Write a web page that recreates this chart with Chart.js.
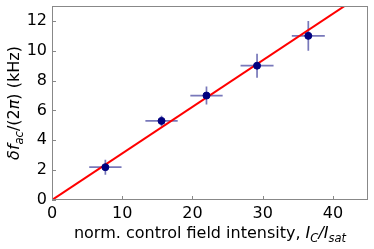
<!DOCTYPE html>
<html>
<head>
<meta charset="utf-8">
<script src="https://cdn.jsdelivr.net/npm/chart.js@4/dist/chart.umd.min.js"></script>
<style>
html,body{margin:0;padding:0;background:#fff;}
#wrap{width:374px;height:249px;position:relative;}
</style>
</head>
<body>
<div id="wrap"><canvas id="c" width="374" height="249"></canvas></div>
<script>
const xVals = [7.6, 15.6, 22.0, 29.2, 36.5];
const yVals = [2.2, 5.3, 7.0, 9.0, 11.0];
const xErr = [2.3, 2.3, 2.3, 2.35, 2.35];
const yErr = [0.5, 0.35, 0.6, 0.8, 1.0];
const fitX = [0, 45];
const fitY = [0, 14.04];
const xTicks = [0, 10, 20, 30, 40];
const yTicks = [0, 2, 4, 6, 8, 10, 12];
const xTitle = [
  {t:"norm. control field intensity, ", i:false, s:false},
  {t:"I", i:true, s:false},{t:"C", i:true, s:true},{t:"/", i:true, s:false},
  {t:"I", i:true, s:false},{t:"sat", i:true, s:true}
];
const yTitle = [
  {t:"δf", i:true, s:false},{t:"ac", i:true, s:true},{t:"/(2", i:false, s:false},
  {t:"π", i:true, s:false},{t:") (kHz)", i:false, s:false}
];

const FONT = "'DejaVu Sans', sans-serif";

function drawRich(ctx, segs, size, cx, cy){
  const sub = size*0.72;
  let total = 0;
  const ws = segs.map(s=>{
    ctx.font = (s.i?'italic ':'') + (s.s?sub:size) + 'px ' + FONT;
    const w = ctx.measureText(s.t).width; total += w; return w;
  });
  let x = cx - total/2;
  ctx.textBaseline = 'alphabetic';
  ctx.textAlign = 'left';
  segs.forEach((s,k)=>{
    ctx.font = (s.i?'italic ':'') + (s.s?sub:size) + 'px ' + FONT;
    ctx.fillText(s.t, x, cy + (s.s ? size*0.22 : 0));
    x += ws[k];
  });
}

const decor = {
  id:'decor',
  beforeDatasetsDraw(chart){
    const ctx = chart.ctx, xs = chart.scales.x, ys = chart.scales.y;
    ctx.save();
    ctx.strokeStyle = 'rgba(30,30,140,0.6)';
    ctx.lineWidth = 1.7;
    for(let k=0;k<xVals.length;k++){
      const px = xs.getPixelForValue(xVals[k]), py = ys.getPixelForValue(yVals[k]);
      ctx.beginPath();
      ctx.moveTo(xs.getPixelForValue(xVals[k]-xErr[k]), py);
      ctx.lineTo(xs.getPixelForValue(xVals[k]+xErr[k]), py);
      ctx.moveTo(px, ys.getPixelForValue(yVals[k]-yErr[k]));
      ctx.lineTo(px, ys.getPixelForValue(yVals[k]+yErr[k]));
      ctx.stroke();
    }
    ctx.restore();
  },
  afterDraw(chart){
    const ctx = chart.ctx, a = chart.chartArea, xs = chart.scales.x, ys = chart.scales.y;
    ctx.save();
    ctx.strokeStyle = '#888';
    ctx.lineWidth = 1;
    ctx.beginPath();
    xTicks.forEach(v=>{const p=Math.round(xs.getPixelForValue(v))+0.5; ctx.moveTo(p,a.bottom); ctx.lineTo(p,a.bottom-4);});
    yTicks.forEach(v=>{const p=Math.round(ys.getPixelForValue(v))+0.5; ctx.moveTo(a.left,p); ctx.lineTo(a.left+4,p);});
    ctx.stroke();
    ctx.strokeRect(a.left+0.5, a.top+0.5, a.right-a.left-1, a.bottom-a.top-1);
    ctx.fillStyle = '#000';
    drawRich(ctx, xTitle, 16, (a.left+a.right)/2, 238);
    ctx.translate(19, (a.top+a.bottom)/2);
    ctx.rotate(-Math.PI/2);
    drawRich(ctx, yTitle, 16, 0, 0);
    ctx.restore();
  }
};

new Chart(document.getElementById('c'), {
  type:'scatter',
  data:{
    datasets:[
      {type:'line', data: fitX.map((x,k)=>({x, y:fitY[k]})), borderColor:'#ff0000', borderWidth:2, pointRadius:0, fill:false, order:2},
      {data: xVals.map((x,k)=>({x, y:yVals[k]})), backgroundColor:'#00007f', borderColor:'#00007f', pointRadius:3.5, order:1}
    ]
  },
  options:{
    responsive:false, animation:false,
    layout:{padding:{top:6, right:6, left:0, bottom:0}},
    plugins:{legend:{display:false}, tooltip:{enabled:false}},
    scales:{
      x:{type:'linear', min:0, max:45,
        afterBuildTicks(s){ s.ticks = xTicks.map(v=>({value:v})); },
        afterFit(s){ s.height = 49; s.paddingLeft = 0; s.paddingRight = 0; },
        grid:{display:false, drawTicks:false}, border:{display:false},
        ticks:{color:'#000', font:{family:FONT, size:16}, padding:4, maxRotation:0}
      },
      y:{type:'linear', min:0, max:13,
        afterBuildTicks(s){ s.ticks = yTicks.map(v=>({value:v})); },
        afterFit(s){ s.width = 52; s.paddingTop = 0; s.paddingBottom = 0; },
        grid:{display:false, drawTicks:false}, border:{display:false},
        ticks:{color:'#000', font:{family:FONT, size:16}, padding:5}
      }
    }
  },
  plugins:[decor]
});
</script>
</body>
</html>
